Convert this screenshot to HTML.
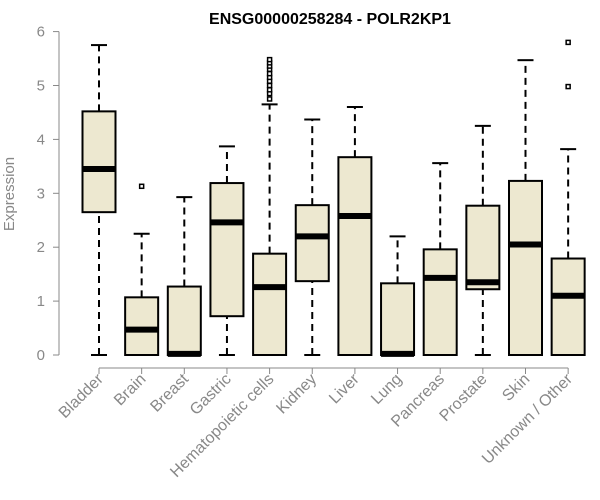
<!DOCTYPE html>
<html><head><meta charset="utf-8"><style>body{margin:0;background:#fff}svg{display:block;font-family:"Liberation Sans",sans-serif}</style></head>
<body>
<svg id="c" width="600" height="500">
<text x="330" y="24" text-anchor="middle" font-size="16" font-weight="bold">ENSG00000258284 - POLR2KP1</text>
<text transform="translate(14,194) rotate(-90)" text-anchor="middle" font-size="15" fill="#888">Expression</text>
</svg>
<script>
const categories=["Bladder","Brain","Breast","Gastric","Hematopoietic cells","Kidney","Liver","Lung","Pancreas","Prostate","Skin","Unknown / Other"];
const mins=[0,0,0,0,0,0,0,0,0,0,0,0];
const q1s=[2.65,0,0,0.72,0,1.37,0,0,0,1.22,0,0];
const medians=[3.45,0.47,0.02,2.46,1.26,2.2,2.58,0.02,1.43,1.35,2.05,1.1];
const q3s=[4.52,1.07,1.27,3.19,1.88,2.78,3.67,1.33,1.96,2.77,3.23,1.79];
const maxs=[5.75,2.25,2.93,3.87,4.65,4.37,4.6,2.2,3.56,4.25,5.47,3.82];
const outliers=[[],[3.13],[],[],[4.75,4.85,4.92,5.0,5.08,5.15,5.22,5.3,5.36,5.42,5.48],[],[],[],[],[],[],[4.98,5.8]];
const yTicks=[0,1,2,3,4,5,6];
const svg=document.getElementById('c'),NS="http://www.w3.org/2000/svg";
const y=v=>355-v*53.9, x=i=>99+i*42.65;
function mk(t,a,name){const e=document.createElementNS(NS,t);for(const k in a)e.setAttribute(k,a[k]);


svg.appendChild(e);return e;}
mk('line',{x1:59,x2:59,y1:y(0),y2:y(6),stroke:'#888'},'y-axis-line');
yTicks.forEach(t=>{mk('line',{x1:53,x2:59,y1:y(t),y2:y(t),stroke:'#888'},'y-tick');
const tx=mk('text',{x:45,y:y(t)+5,'text-anchor':'end','font-size':15,fill:'#888'},'y-tick-label');tx.textContent=t;});
mk('line',{x1:x(0),x2:x(11),y1:368,y2:368,stroke:'#888'},'x-axis-line');
categories.forEach((c,i)=>{const cx=x(i),w=16.5;
mk('line',{x1:cx,x2:cx,y1:y(q3s[i]),y2:y(maxs[i]),stroke:'#000','stroke-width':2,'stroke-dasharray':'7,5'},'whisker-upper');
mk('line',{x1:cx,x2:cx,y1:y(mins[i]),y2:y(q1s[i]),stroke:'#000','stroke-width':2,'stroke-dasharray':'7,5'},'whisker-lower');
mk('line',{x1:cx-8,x2:cx+8,y1:y(maxs[i]),y2:y(maxs[i]),stroke:'#000','stroke-width':2},'whisker-cap');
mk('line',{x1:cx-8,x2:cx+8,y1:y(mins[i]),y2:y(mins[i]),stroke:'#000','stroke-width':2},'whisker-cap');
mk('rect',{x:cx-w,y:y(q3s[i]),width:2*w,height:Math.max(y(q1s[i])-y(q3s[i]),0.5),fill:'#ede8d0',stroke:'#000','stroke-width':2},'box-'+c.toLowerCase().replace(/[^a-z]+/g,'-'));
mk('line',{x1:cx-w,x2:cx+w,y1:y(medians[i]),y2:y(medians[i]),stroke:'#000','stroke-width':6},'median-line');
outliers[i].forEach(o=>mk('rect',{x:cx-2,y:y(o)-2,width:4,height:4,fill:'#fff',stroke:'#000','stroke-width':1.5},'outlier-point'));
mk('line',{x1:cx,x2:cx,y1:368,y2:374,stroke:'#888'},'x-tick');
const t=mk('text',{transform:`translate(${cx+5},380) rotate(-45)`,'text-anchor':'end','font-size':16,fill:'#888'},'x-tick-label');t.textContent=c;});
</script>
</body></html>
